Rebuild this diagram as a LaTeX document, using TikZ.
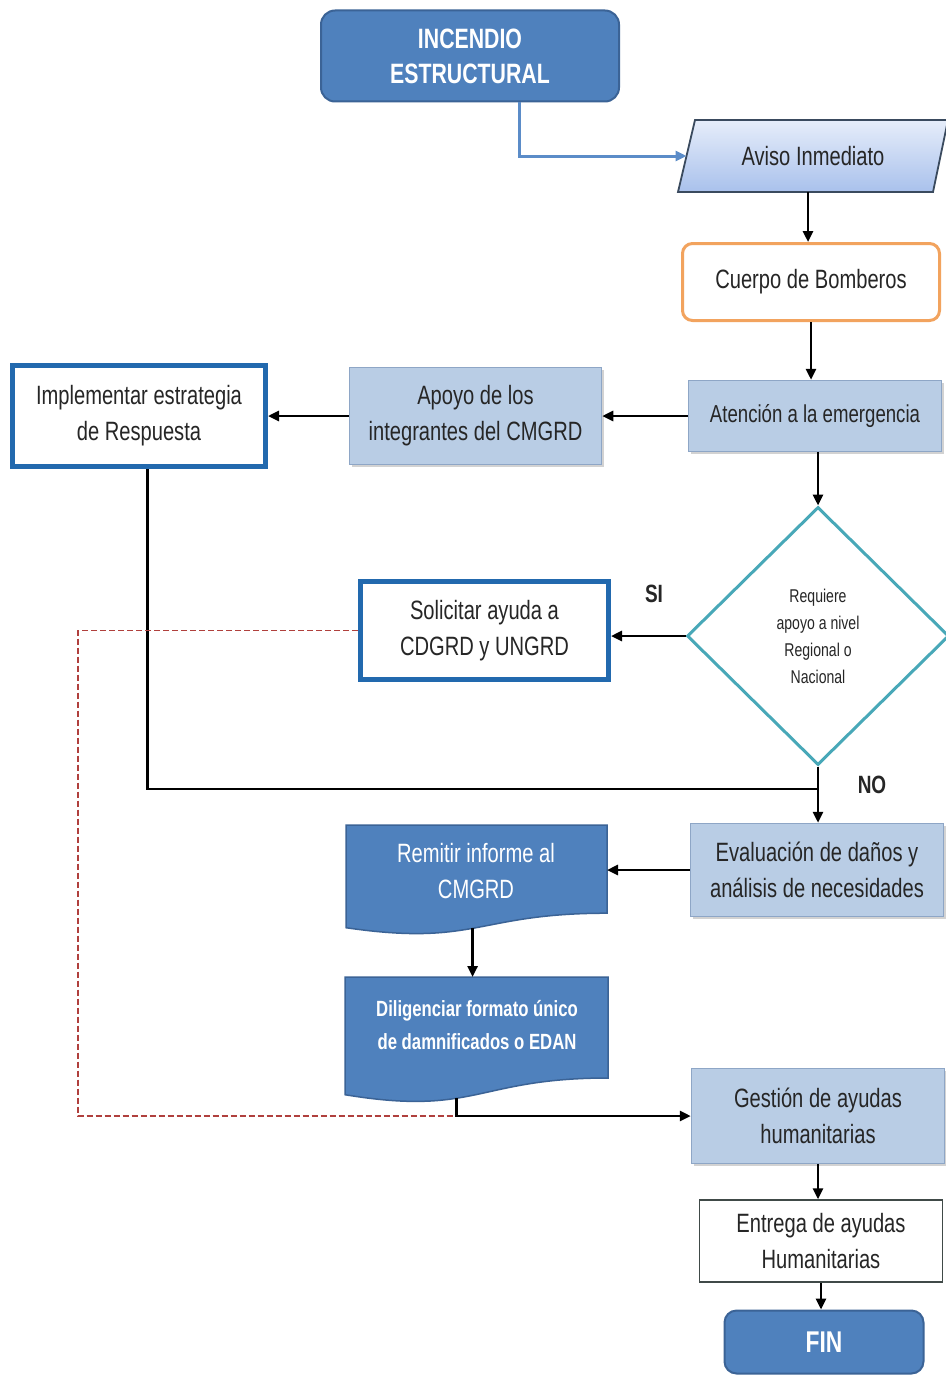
\documentclass[tikz,border=0pt]{standalone}
\usepackage{fontspec}
\setmainfont{Liberation Sans}[FakeStretch=0.76]
\usetikzlibrary{arrows.meta,shapes.geometric,shadows,calc}
\definecolor{dblue}{HTML}{4F81BD}
\definecolor{dblueb}{HTML}{3B6396}
\definecolor{lblue}{HTML}{B9CDE5}
\definecolor{lblueb}{HTML}{8EA6C6}
\definecolor{tblue}{HTML}{2269AE}
\definecolor{orangeb}{HTML}{F2A35E}
\definecolor{tealc}{HTML}{48A8B8}
\definecolor{txt}{HTML}{262626}
\definecolor{dred}{HTML}{B0403D}
\definecolor{conblue}{HTML}{5B8CC8}
\definecolor{entb}{HTML}{404A48}
\definecolor{avib}{HTML}{3A4A5E}
\definecolor{avitop}{HTML}{E6EDFA}
\definecolor{avibot}{HTML}{A9C1EC}
\begin{document}
\begin{tikzpicture}[x=1pt,y=-1pt,
  every node/.style={text=txt, align=center, inner sep=0pt},
  txtf/.style={font=\fontsize{26.5}{36}\selectfont},
  term/.style={rectangle, rounded corners=14pt, fill=dblue, draw=dblueb, line width=2pt, text=white, font=\bfseries\fontsize{28}{35}\selectfont},
  lbox/.style={rectangle, fill=lblue, draw=lblueb, line width=1.5pt, drop shadow={shadow xshift=2.5pt,shadow yshift=-2.5pt,opacity=0.35}, txtf},
  tbox/.style={rectangle, fill=white, draw=tblue, line width=5pt, txtf},
  arr/.style={line width=2.6pt, draw=black, -{Triangle[length=11pt,width=10pt]}},
  ln/.style={line width=2.6pt, draw=black},
  docshape/.style={fill=dblue, draw=dblueb, line width=1.5pt},
]
\fill[white] (0,0) rectangle (945,1378);
\useasboundingbox (0,0) rectangle (945,1378);

% start
\node[term, minimum width=298, minimum height=91] (inc) at (470,56) {INCENDIO\\ESTRUCTURAL};

% aviso (parallelogram)
\path[top color=avitop, bottom color=avibot, draw=avib, line width=1.8pt]
  (695,120) -- (948,120) -- (933,192) -- (678,192) -- cycle;
\node[txtf, minimum width=230, minimum height=70] (avi) at (813,156) {Aviso Inmediato};
\coordinate (avil) at (686.5,156);
\coordinate (avibt) at (808,192);

% cuerpo de bomberos
\node[txtf, rectangle, rounded corners=10pt, draw=orangeb, line width=3pt, fill=white,
      minimum width=257, minimum height=77] (cue) at (811,282) {Cuerpo de Bomberos};

% atencion
\node[lbox, minimum width=253, minimum height=71, font=\fontsize{24.5}{30}\selectfont] (ate) at (815,416) {Atención a la emergencia};

% apoyo
\node[lbox, minimum width=252, minimum height=97] (apo) at (475.5,416) {Apoyo de los\\integrantes del CMGRD};

% implementar
\node[tbox, minimum width=253, minimum height=101] (imp) at (139,416) {Implementar estrategia\\de Respuesta};

% decision
\node[diamond, draw=tealc, line width=3pt, fill=white, minimum width=262, minimum height=258,
      font=\fontsize{18.5}{27}\selectfont] (dia) at (818,636) {Requiere\\apoyo a nivel\\Regional o\\Nacional};

% solicitar
\node[tbox, minimum width=248, minimum height=98] (sol) at (484.5,630.5) {Solicitar ayuda a\\CDGRD y UNGRD};

\node[font=\bfseries\fontsize{25}{30}\selectfont] (si) at (654,594) {SI};
\node[font=\bfseries\fontsize{25}{30}\selectfont] (no) at (872,785) {NO};

% evaluacion
\node[lbox, minimum width=253, minimum height=93] (eva) at (817,870) {Evaluación de daños y\\análisis de necesidades};

% remitir (document shape)
\path[docshape] (346,825) -- (607,825) -- (607,913.2)
  .. controls (476.5,913.2) and (476.5,946.8) .. coordinate[pos=0.52] (remb) (346,927.7) -- cycle;
\node[txtf, text=white] (rem) at (476,871) {Remitir informe al\\CMGRD};
\coordinate (remr) at (607,870);

% diligenciar (document shape)
\path[docshape] (345,977) -- (608,977) -- (608,1078)
  .. controls (476.5,1078) and (476.5,1116.5) .. coordinate[pos=0.6] (dilb) (345,1094.7) -- cycle;
\node[text=white, font=\bfseries\fontsize{22}{33}\selectfont] (dil) at (477,1025) {Diligenciar formato único\\de damnificados o EDAN};
\coordinate (dilt) at (472,977);

% gestion
\node[lbox, minimum width=253, minimum height=95] (ges) at (818,1116) {Gestión de ayudas\\humanitarias};

% entrega
\node[txtf, rectangle, draw=entb, line width=1.5pt, fill=white, minimum width=243, minimum height=82] (ent) at (821,1241) {Entrega de ayudas\\Humanitarias};

% fin
\node[term, rounded corners=12pt, minimum width=199, minimum height=63, font=\bfseries\fontsize{30}{34}\selectfont] (fin) at (824,1342) {FIN};

% connectors
\draw[line width=3pt, draw=conblue, -{Triangle[length=11pt,width=10pt]}] ([xshift=49pt]inc.south) |- (avil);
\draw[arr] (avibt) -- (avibt |- cue.north);
\draw[arr] (cue.south) -- (cue.south |- ate.north);
\draw[arr] (ate.west) -- (ate.west -| apo.east);
\draw[arr] (apo.west) -- (apo.west -| imp.east);
\draw[arr] (dia.north |- ate.south) -- (dia.north);
\draw[arr] (dia.west) -- (dia.west -| sol.east);
\coordinate (j) at (818,789);
\draw[ln] ([xshift=8.5pt]imp.south) |- (j);
\draw[arr] (dia.south) -- (dia.south |- eva.north);
\draw[arr] (eva.west) -- (remr);
\draw[arr] (remb) -- (remb |- dilt);
\draw[dred, line width=1.2pt, dash pattern=on 6pt off 3pt] (sol.west) -- ++(-280,0) |- (dilb |- ges.west);
\draw[arr] (dilb) |- (ges.west);
\draw[arr] (ges.south) -- (ges.south |- ent.north);
\draw[arr] (ent.south) -- (ent.south |- fin.north);
\end{tikzpicture}
\end{document}
